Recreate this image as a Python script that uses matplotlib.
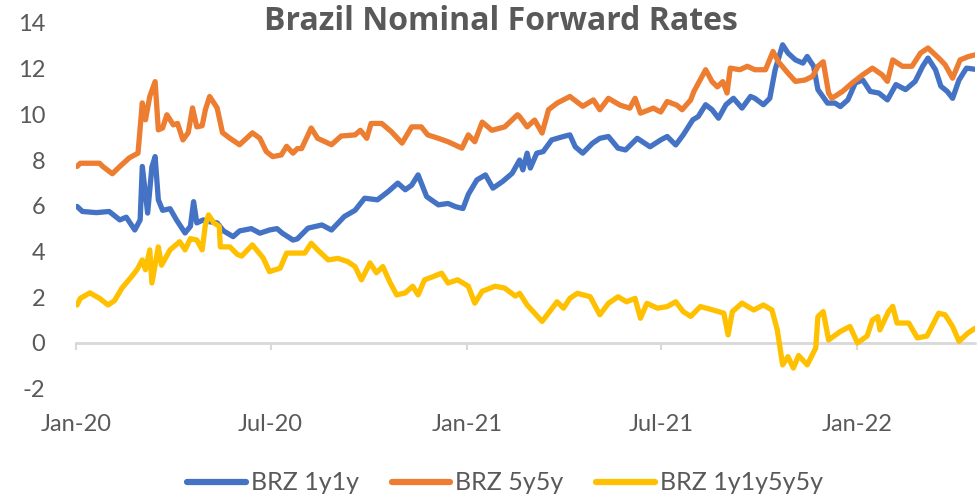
import matplotlib
matplotlib.use("Agg")
import matplotlib.pyplot as plt
import pandas as pd

# ---------------- data ----------------
title = "Brazil Nominal Forward Rates"
series_names = ["BRZ 1y1y", "BRZ 5y5y", "BRZ 1y1y5y5y"]
series_colors = ["#4472C4", "#ED7D31", "#FFC000"]

tick_dates = ["2020-01-01", "2020-07-01", "2021-01-01", "2021-07-01", "2022-01-01"]
tick_labels = ["Jan-20", "Jul-20", "Jan-21", "Jul-21", "Jan-22"]
y_ticks = [-2, 0, 2, 4, 6, 8, 10, 12, 14]

brz_1y1y_dates = [
    "2020-01-02", "2020-01-07", "2020-01-20", "2020-02-01", "2020-02-11", "2020-02-17",
    "2020-02-25", "2020-03-01", "2020-03-03", "2020-03-08", "2020-03-12", "2020-03-15",
    "2020-03-18", "2020-03-22", "2020-03-29", "2020-04-04", "2020-04-12", "2020-04-17",
    "2020-04-20", "2020-04-23", "2020-04-29", "2020-05-05", "2020-05-12", "2020-05-18",
    "2020-05-27", "2020-06-02", "2020-06-13", "2020-06-21", "2020-06-30", "2020-07-07",
    "2020-07-12", "2020-07-22", "2020-07-26", "2020-08-05", "2020-08-18", "2020-08-27",
    "2020-09-08", "2020-09-18", "2020-09-27", "2020-10-09", "2020-10-19", "2020-10-28",
    "2020-11-04", "2020-11-10", "2020-11-16", "2020-11-24", "2020-12-05", "2020-12-14",
    "2020-12-21", "2020-12-28", "2021-01-02", "2021-01-10", "2021-01-18", "2021-01-25",
    "2021-02-03", "2021-02-12", "2021-02-19", "2021-02-22", "2021-02-26", "2021-03-01",
    "2021-03-07", "2021-03-13", "2021-03-21", "2021-04-01", "2021-04-07", "2021-04-12",
    "2021-04-19", "2021-04-28", "2021-05-05", "2021-05-13", "2021-05-22", "2021-05-29",
    "2021-06-09", "2021-06-21", "2021-07-01", "2021-07-07", "2021-07-15", "2021-07-22",
    "2021-07-31", "2021-08-05", "2021-08-12", "2021-08-18", "2021-08-24", "2021-08-31",
    "2021-09-07", "2021-09-15", "2021-09-23", "2021-09-27", "2021-10-05", "2021-10-11",
    "2021-10-16", "2021-10-23", "2021-10-28", "2021-11-04", "2021-11-11", "2021-11-15",
    "2021-11-21", "2021-11-25", "2021-12-04", "2021-12-11", "2021-12-16", "2021-12-23",
    "2021-12-30", "2022-01-06", "2022-01-13", "2022-01-21", "2022-01-29", "2022-02-06",
    "2022-02-15", "2022-02-24", "2022-03-03", "2022-03-08", "2022-03-15", "2022-03-20",
    "2022-03-26", "2022-03-31", "2022-04-06", "2022-04-13", "2022-04-21",
]
brz_1y1y_values = [
    5.97, 5.75, 5.70, 5.75, 5.38, 5.50,
    4.94, 5.38, 7.72, 5.68, 7.70, 8.15,
    6.26, 5.80, 5.87, 5.38, 4.81, 5.10,
    6.18, 5.25, 5.38, 5.30, 5.25, 4.90,
    4.65, 4.90, 5.00, 4.80, 4.94, 5.00,
    4.80, 4.50, 4.55, 5.02, 5.16, 4.94,
    5.53, 5.80, 6.33, 6.26, 6.62, 6.99,
    6.70, 6.90, 7.35, 6.40, 6.04, 6.10,
    5.96, 5.88, 6.50, 7.13, 7.35, 6.77,
    7.06, 7.42, 8.00, 7.57, 8.30, 7.65,
    8.30, 8.37, 8.88, 9.03, 9.10, 8.58,
    8.30, 8.73, 8.95, 9.03, 8.52, 8.44,
    8.95, 8.58, 8.88, 9.03, 8.66, 9.10,
    9.76, 9.90, 10.42, 10.20, 9.83, 10.42,
    10.70, 10.27, 10.78, 10.70, 10.42, 10.70,
    11.95, 13.04, 12.68, 12.38, 12.24, 12.53,
    12.10, 11.08, 10.49, 10.49, 10.34, 10.63,
    11.37, 11.50, 11.00, 10.93, 10.63, 11.30,
    11.08, 11.44, 12.10, 12.46, 11.95, 11.23,
    11.00, 10.70, 11.50, 12.02, 11.97,
]

brz_5y5y_dates = [
    "2020-01-02", "2020-01-05", "2020-01-14", "2020-01-23", "2020-01-26", "2020-02-04",
    "2020-02-11", "2020-02-20", "2020-02-28", "2020-03-03", "2020-03-06", "2020-03-10",
    "2020-03-15", "2020-03-18", "2020-03-22", "2020-03-26", "2020-04-01", "2020-04-05",
    "2020-04-10", "2020-04-15", "2020-04-19", "2020-04-23", "2020-04-28", "2020-05-01",
    "2020-05-05", "2020-05-12", "2020-05-17", "2020-05-24", "2020-06-02", "2020-06-05",
    "2020-06-14", "2020-06-21", "2020-06-27", "2020-07-03", "2020-07-11", "2020-07-16",
    "2020-07-22", "2020-07-26", "2020-07-30", "2020-08-08", "2020-08-14", "2020-08-27",
    "2020-09-05", "2020-09-18", "2020-09-23", "2020-09-29", "2020-10-03", "2020-10-13",
    "2020-10-22", "2020-11-01", "2020-11-10", "2020-11-19", "2020-11-25", "2020-12-05",
    "2020-12-14", "2020-12-27", "2021-01-02", "2021-01-08", "2021-01-15", "2021-01-24",
    "2021-02-05", "2021-02-17", "2021-02-19", "2021-02-26", "2021-03-05", "2021-03-12",
    "2021-03-18", "2021-03-26", "2021-04-07", "2021-04-19", "2021-04-29", "2021-05-05",
    "2021-05-13", "2021-05-24", "2021-06-02", "2021-06-07", "2021-06-12", "2021-06-24",
    "2021-07-01", "2021-07-07", "2021-07-16", "2021-07-21", "2021-07-29", "2021-08-01",
    "2021-08-12", "2021-08-18", "2021-08-23", "2021-08-28", "2021-09-01", "2021-09-04",
    "2021-09-13", "2021-09-20", "2021-09-27", "2021-10-07", "2021-10-14", "2021-10-19",
    "2021-10-28", "2021-11-04", "2021-11-13", "2021-11-20", "2021-11-25", "2021-11-30",
    "2021-12-05", "2021-12-08", "2021-12-18", "2021-12-27", "2022-01-06", "2022-01-15",
    "2022-01-24", "2022-01-29", "2022-02-03", "2022-02-12", "2022-02-21", "2022-03-01",
    "2022-03-08", "2022-03-18", "2022-03-24", "2022-03-31", "2022-04-07", "2022-04-15",
    "2022-04-21",
]
brz_5y5y_values = [
    7.72, 7.86, 7.86, 7.86, 7.72, 7.40,
    7.72, 8.10, 8.30, 10.50, 9.76, 10.78,
    11.43, 9.32, 9.40, 9.98, 9.54, 9.60,
    8.88, 9.20, 10.28, 9.45, 9.50, 10.20,
    10.78, 10.28, 9.20, 8.95, 8.67, 8.80,
    9.19, 8.95, 8.37, 8.15, 8.22, 8.60,
    8.30, 8.50, 8.50, 9.40, 8.95, 8.67,
    9.05, 9.10, 9.30, 8.95, 9.60, 9.60,
    9.24, 8.74, 9.45, 9.45, 9.10, 8.95,
    8.80, 8.52, 9.10, 8.80, 9.66, 9.30,
    9.45, 9.98, 9.90, 9.45, 9.75, 9.18,
    10.20, 10.49, 10.78, 10.35, 10.63, 10.20,
    10.70, 10.40, 10.27, 10.70, 10.05, 10.27,
    10.10, 10.56, 10.40, 10.20, 10.63, 11.00,
    11.95, 11.43, 11.20, 11.43, 10.93, 12.02,
    11.95, 12.10, 11.95, 11.95, 12.75, 12.30,
    11.80, 11.44, 11.50, 11.66, 12.10, 12.30,
    10.93, 10.70, 11.00, 11.37, 11.73, 12.02,
    11.73, 11.44, 12.38, 12.10, 12.10, 12.68,
    12.90, 12.46, 12.17, 11.58, 12.38, 12.53,
    12.60,
]

brz_1y1y5y5y_dates = [
    "2020-01-02", "2020-01-05", "2020-01-14", "2020-01-23", "2020-01-31", "2020-02-06",
    "2020-02-13", "2020-02-22", "2020-02-27", "2020-03-03", "2020-03-06", "2020-03-10",
    "2020-03-12", "2020-03-18", "2020-03-21", "2020-03-29", "2020-04-07", "2020-04-12",
    "2020-04-17", "2020-04-23", "2020-04-28", "2020-05-01", "2020-05-04", "2020-05-09",
    "2020-05-14", "2020-05-15", "2020-05-24", "2020-05-31", "2020-06-04", "2020-06-14",
    "2020-06-24", "2020-06-30", "2020-07-10", "2020-07-16", "2020-07-26", "2020-08-02",
    "2020-08-08", "2020-08-14", "2020-08-24", "2020-09-02", "2020-09-11", "2020-09-18",
    "2020-09-24", "2020-10-02", "2020-10-08", "2020-10-14", "2020-10-21", "2020-10-27",
    "2020-11-04", "2020-11-11", "2020-11-16", "2020-11-22", "2020-11-30", "2020-12-08",
    "2020-12-14", "2020-12-23", "2021-01-02", "2021-01-08", "2021-01-15", "2021-01-27",
    "2021-02-05", "2021-02-15", "2021-02-19", "2021-02-26", "2021-03-05", "2021-03-12",
    "2021-03-19", "2021-03-26", "2021-04-01", "2021-04-07", "2021-04-14", "2021-04-26",
    "2021-05-05", "2021-05-13", "2021-05-22", "2021-05-30", "2021-06-07", "2021-06-12",
    "2021-06-18", "2021-06-28", "2021-07-07", "2021-07-15", "2021-07-22", "2021-07-29",
    "2021-08-07", "2021-08-19", "2021-08-29", "2021-09-02", "2021-09-06", "2021-09-15",
    "2021-09-26", "2021-10-05", "2021-10-13", "2021-10-18", "2021-10-23", "2021-10-28",
    "2021-11-02", "2021-11-07", "2021-11-15", "2021-11-23", "2021-11-25", "2021-11-30",
    "2021-12-05", "2021-12-16", "2021-12-25", "2022-01-01", "2022-01-10", "2022-01-15",
    "2022-01-20", "2022-01-22", "2022-01-30", "2022-02-03", "2022-02-07", "2022-02-18",
    "2022-02-26", "2022-03-07", "2022-03-18", "2022-03-24", "2022-03-31", "2022-04-06",
    "2022-04-14", "2022-04-21",
]
brz_1y1y5y5y_values = [
    1.66, 1.95, 2.19, 1.95, 1.66, 1.85,
    2.40, 2.90, 3.20, 3.63, 3.20, 4.07,
    2.62, 4.20, 3.40, 4.07, 4.43, 4.07,
    4.56, 4.50, 4.07, 5.16, 5.60, 5.25,
    5.10, 4.20, 4.20, 3.87, 3.80, 4.29,
    3.72, 3.12, 3.27, 3.93, 3.93, 3.93,
    4.36, 4.07, 3.63, 3.70, 3.56, 3.34,
    2.76, 3.50, 3.07, 3.34, 2.62, 2.10,
    2.19, 2.48, 2.10, 2.76, 2.90, 3.05,
    2.62, 2.76, 2.48, 1.74, 2.26, 2.48,
    2.40, 2.05, 2.17, 1.66, 1.30, 0.94,
    1.37, 1.80, 1.52, 1.95, 2.17, 2.02,
    1.23, 1.73, 2.02, 1.80, 1.95, 1.08,
    1.73, 1.52, 1.59, 1.80, 1.37, 1.16,
    1.59, 1.44, 1.30, 0.35, 1.37, 1.74,
    1.44, 1.66, 1.44, 0.57, -0.96, -0.60,
    -1.10, -0.55, -0.96, -0.22, 1.15, 1.37,
    0.13, 0.50, 0.72, 0.00, 0.30, 1.00,
    1.15, 0.57, 1.37, 1.60, 0.87, 0.87,
    0.22, 0.30, 1.30, 1.23, 0.72, 0.07,
    0.42, 0.64,
]

x_start = "2020-01-01"
x_end = "2022-04-21"

# ---------------- plot ----------------
label_color = "#595959"
axis_color = "#D9D9D9"
font = "Lato"

fig = plt.figure(figsize=(9.77, 4.97), dpi=100)
ax = fig.add_axes([0.0778, 0.218, 0.9202, 0.736])

all_dates = [brz_1y1y_dates, brz_5y5y_dates, brz_1y1y5y5y_dates]
all_values = [brz_1y1y_values, brz_5y5y_values, brz_1y1y5y5y_values]
for name, color, d, v in zip(series_names, series_colors, all_dates, all_values):
    ax.plot(pd.to_datetime(d), v, color=color, lw=3.8, label=name,
            solid_joinstyle="round", solid_capstyle="round")

ax.set_xlim(pd.Timestamp(x_start), pd.Timestamp(x_end))
ax.set_ylim(min(y_ticks), max(y_ticks))
ax.set_yticks(y_ticks)
ax.set_yticklabels([str(t) for t in y_ticks], fontsize=17, color=label_color, family=font)
ax.tick_params(axis="y", length=0, pad=22)

tick_pos = pd.to_datetime(tick_dates)
ax.set_xticks(tick_pos)
ax.set_xticklabels(tick_labels, fontsize=17, color=label_color, family=font)
ax.tick_params(axis="x", length=0, pad=18)

for s in ["top", "right", "left", "bottom"]:
    ax.spines[s].set_visible(False)

# horizontal axis line at zero with tick marks
zero_frac = (0 - min(y_ticks)) / (max(y_ticks) - min(y_ticks))
sec = ax.secondary_xaxis(zero_frac)
sec.set_xticks(tick_pos)
sec.set_xticklabels([])
sec.tick_params(axis="x", length=5, width=1.5, color=axis_color, direction="out")
sec.spines["bottom"].set_color(axis_color)
sec.spines["bottom"].set_linewidth(1.8)
ax.axhline(0, color=axis_color, lw=1.8, zorder=0)

fig.text(0.513, 1 - 21 / 497, title, ha="center", va="center", fontsize=23,
         fontweight="bold", color=label_color, family="Open Sans")

leg = fig.legend(loc="center", bbox_to_anchor=(0.517, 1 - 483 / 497), ncol=3,
                 frameon=False, prop={"family": font, "size": 18},
                 handlelength=2.35, handletextpad=0.2, columnspacing=1.3)
for t in leg.get_texts():
    t.set_color(label_color)
for h in leg.get_lines():
    h.set_linewidth(4.5)

fig.savefig("out.png", dpi=100)
